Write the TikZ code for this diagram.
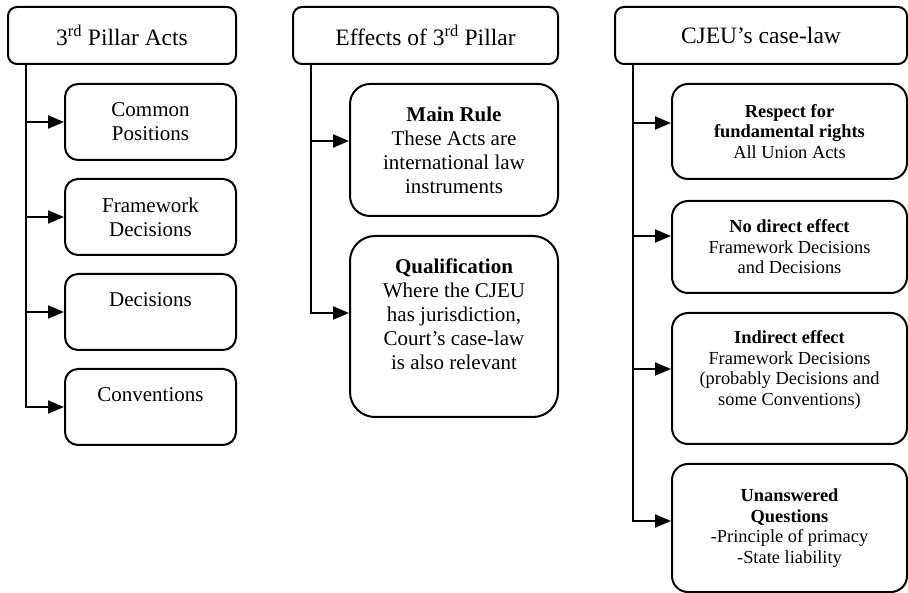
\documentclass[tikz,border=0pt]{standalone}
\usepackage{fontspec}
\setmainfont{Liberation Serif}
\usetikzlibrary{arrows.meta, positioning}

\begin{document}
\begin{tikzpicture}[x=1pt, y=-1pt, line width=2pt, node distance=17pt,
    head/.style={draw, rounded corners=9pt, minimum width=#1, minimum height=57pt, font=\fontsize{23.5}{27}\selectfont},
    item/.style={draw, rounded corners=13pt, align=center, anchor=north, font=\fontsize{21}{24}\selectfont},
    small/.style={item, rounded corners=16pt, minimum width=235pt, font=\fontsize{18.4}{20.5}\selectfont},
    arr/.style={-{Triangle[length=16pt, width=13pt]}}]
        \useasboundingbox (0,0) rectangle (908,593);
        % Column headers
        \node[head=228pt] (acts) at (122,35.5) {3\textsuperscript{rd} Pillar Acts};
        \node[head=265pt] (effects) at (425.5,35.5) {Effects of 3\textsuperscript{rd} Pillar};
        \node[head=292pt] (cjeu) at (761,35.5) {CJEU's case-law};

        % Kinds of acts
        \node[item, minimum width=171pt, minimum height=76pt] (compos) at (150.5,83) {Common\\Positions};
        \node[item, minimum width=171pt, minimum height=76pt, below=of compos] (framedec) {Framework\\Decisions};
        \node[item, minimum width=171pt, minimum height=76pt, below=of framedec] (decis) {Decisions\\\mbox{}};
        \node[item, minimum width=171pt, minimum height=76pt, below=of decis] (conv) {Conventions\\\mbox{}};

        % Effects
        \node[item, rounded corners=20pt, minimum width=208pt, minimum height=132pt] (mainrule) at (454,83) {\textbf{Main Rule}\\These Acts are\\international law\\instruments};
        \node[item, rounded corners=25pt, minimum width=208pt, minimum height=181pt, below=18pt of mainrule] (qualif) {\textbf{Qualification}\\Where the CJEU\\has jurisdiction,\\Court's case-law\\is also relevant\\\mbox{}};

        % Case-law
        \node[small, minimum height=95pt] (rights) at (789.5,83) {\textbf{Respect for}\\\textbf{fundamental rights}\\All Union Acts};
        \node[small, minimum height=92pt, below=20pt of rights] (nodirect) {\textbf{No direct effect}\\Framework Decisions\\and Decisions};
        \node[small, minimum height=131pt, below=18pt of nodirect] (indirect) {\textbf{Indirect effect}\\Framework Decisions\\(probably Decisions and\\some Conventions)\\\mbox{}};
        \node[small, minimum height=128pt, below=18pt of indirect] (open) {\textbf{Unanswered}\\\textbf{Questions}\\-Principle of primacy\\-State liability};

        \draw[arr] ([xshift=19pt]acts.south west) |- (compos.west);
        \draw[arr] ([xshift=19pt]acts.south west) |- (framedec.west);
        \draw[arr] ([xshift=19pt]acts.south west) |- (decis.west);
        \draw[arr] ([xshift=19pt]acts.south west) |- (conv.west);
        \draw[arr] ([xshift=19pt]effects.south west) |- ([yshift=9pt]mainrule.west);
        \draw[arr] ([xshift=19pt]effects.south west) |- ([yshift=13.5pt]qualif.west);
        \draw[arr] ([xshift=19pt]cjeu.south west) |- ([yshift=8.5pt]rights.west);
        \draw[arr] ([xshift=19pt]cjeu.south west) |- ([yshift=11pt]nodirect.west);
        \draw[arr] ([xshift=19pt]cjeu.south west) |- ([yshift=9.5pt]indirect.west);
        \draw[arr] ([xshift=19pt]cjeu.south west) |- ([yshift=7pt]open.west);
\end{tikzpicture}
\end{document}
